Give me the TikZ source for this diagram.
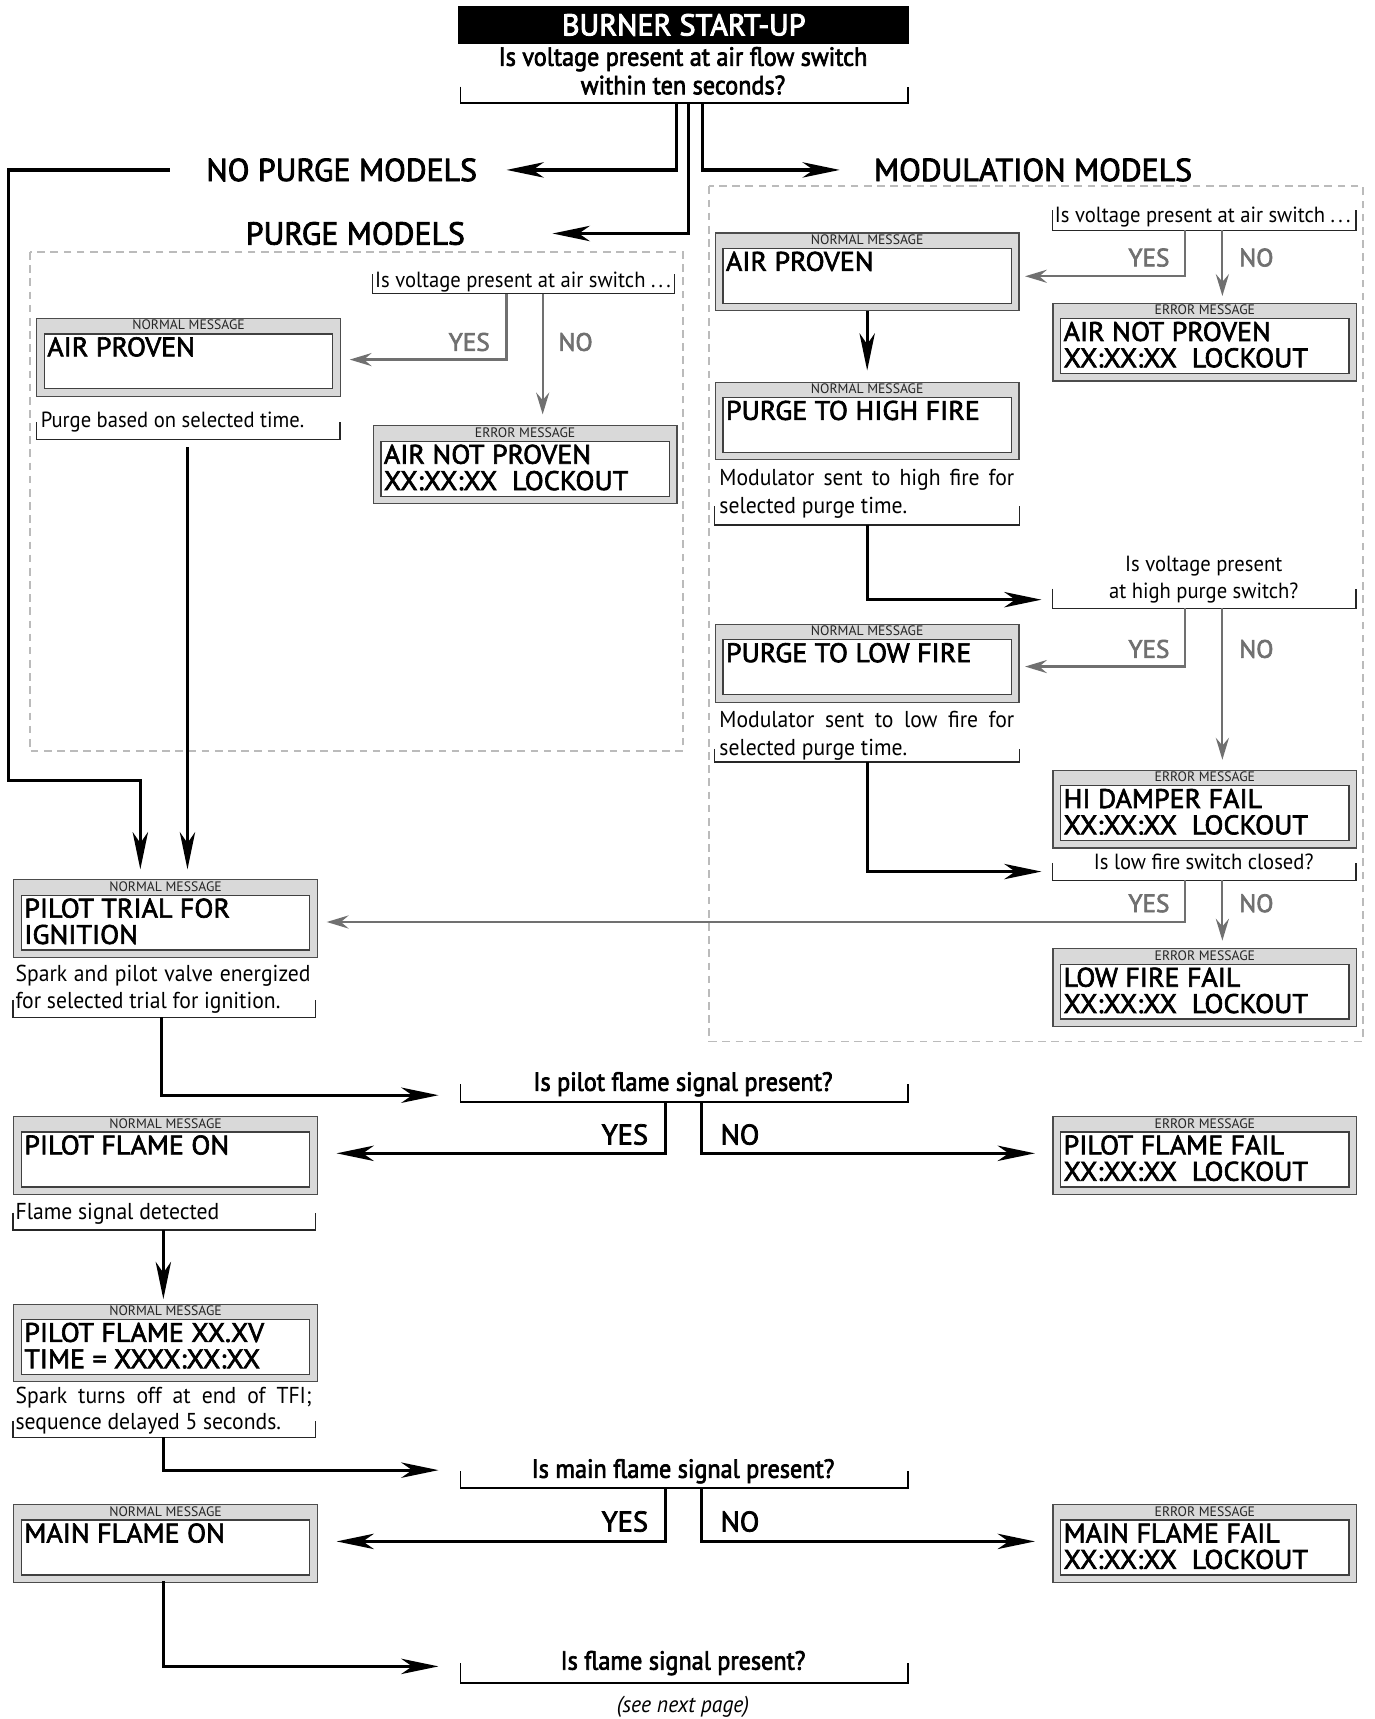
\documentclass[tikz,border=0pt]{standalone}
\usepackage{fontspec}
\setmainfont{PT Sans}
\newfontfamily\cfnt{PT Sans}[FakeStretch=0.94]
\newfontfamily\qfnt{PT Sans}[FakeStretch=0.92,FakeBold=2.6]
\newfontfamily\bfnt{PT Sans}[FakeStretch=1.04,FakeBold=2.4]
\newfontfamily\sfnt{PT Sans}[FakeBold=2.6]
\newfontfamily\tfnt{PT Sans}[FakeBold=3.2]
\usetikzlibrary{arrows.meta}
\definecolor{lg}{HTML}{D9D9D9}
\definecolor{dg}{HTML}{707070}
\definecolor{dashc}{HTML}{BBBBBB}
\newcommand\ddd{.\hspace{3pt}.\hspace{3pt}.}
\tikzset{
  blk/.style={line width=3pt,-{Stealth[length=34pt,width=14pt,inset=10pt]}},
  gry/.style={draw=dg,line width=2pt,-{Stealth[length=20pt,width=12pt,inset=7pt]},color=dg},
  brk/.style={line width=1.6pt},
  brkg/.style={line width=1.2pt,draw=black!85},
  dbox/.style={draw=dashc,line width=1.8pt,dash pattern=on 7pt off 5pt},
  outerb/.style={draw=black!70,line width=1pt,fill=lg,minimum width=277pt,minimum height=71pt,anchor=north west,inner sep=0pt},
  innerb/.style={draw=black!75,line width=1.2pt,fill=white,minimum width=263pt,minimum height=50pt,anchor=north west,inner sep=0pt},
  hdr/.style={font=\fontsize{12.5}{12.5}\selectfont,anchor=base,inner sep=0pt,text=black!85},
  btxt/.style={font=\bfnt\fontsize{24.5}{24.5}\selectfont,anchor=base west,inner sep=0pt},
  sec/.style={font=\sfnt\fontsize{29}{29}\selectfont,inner sep=0pt,anchor=west},
  qq/.style={font=\qfnt\fontsize{24}{24}\selectfont,inner sep=0pt,anchor=base},
  sq/.style={font=\cfnt\fontsize{20}{20}\selectfont,inner sep=0pt,anchor=base west},
  sqc/.style={font=\cfnt\fontsize{20}{20}\selectfont,inner sep=0pt,anchor=base},
  desc/.style={font=\cfnt\fontsize{21}{21}\selectfont,inner sep=0pt,anchor=base west},
  yn/.style={font=\sfnt\fontsize{23}{23}\selectfont,text=dg,inner sep=0pt,anchor=base},
  ynb/.style={font=\sfnt\fontsize{26}{26}\selectfont,inner sep=0pt,anchor=base},
}
\newcommand\msgb[6]{%
  \node[outerb] (#1) at (#2,#3) {};
  \node[hdr] (#1h) at ([shift={(0,11)}]#1.north) {#4};
  \node[innerb] (#1i) at ([shift={(7,14)}]#1.north west) {};
  \node[btxt] (#1a) at ([shift={(3,21)}]#1i.north west) {#5};
  \node[btxt] (#1b) at ([shift={(3,45)}]#1i.north west) {#6};
}
\newcommand\brkt[4]{\draw[brk] (#1,#3) |- (#2,#4) -- (#2,#3);}
\begin{document}
\begin{tikzpicture}[x=1pt,y=-1pt]
\useasboundingbox (0,0) rectangle (1254,1568);
% dashed regions
\draw[dbox] (27,230) rectangle (623,685);
\draw[dbox] (647,170) rectangle (1243,950);
% title
\node[fill=black,minimum width=411pt,minimum height=35pt,anchor=north west,inner sep=0pt,text=white,font=\tfnt\fontsize{27.5}{27.5}\selectfont] (title) at (418,5) {BURNER START-UP};
\node[qq] (q1a) at (623,60) {Is voltage present at air flow switch};
\node[qq] (q1b) at (623,86) {within ten seconds?};
\brkt{420}{828}{79}{94}
% section labels
\node[sec] (npm) at (188,155) {NO PURGE MODELS};
\node[sec] (pm) at (224,213) {PURGE MODELS};
\node[sec] (mm) at (797,155) {MODULATION MODELS};
\coordinate (t1) at (462,155);
\coordinate (t2) at (504,213);
\coordinate (t3) at (766,155);
\draw[blk] (617,94) |- (t1);
\draw[blk] (628,94) |- (t2);
\draw[blk] (641,94) |- (t3);
% boxes
\msgb{apb}{33}{290}{NORMAL MESSAGE}{AIR PROVEN}{}
\msgb{anp}{340}{388}{ERROR MESSAGE}{AIR NOT PROVEN}{XX:XX:XX\ \ LOCKOUT}
\msgb{apm}{652}{212}{NORMAL MESSAGE}{AIR PROVEN}{}
\msgb{anm}{960}{276}{ERROR MESSAGE}{AIR NOT PROVEN}{XX:XX:XX\ \ LOCKOUT}
\msgb{phf}{652}{348}{NORMAL MESSAGE}{PURGE TO HIGH FIRE}{}
\msgb{plf}{652}{569}{NORMAL MESSAGE}{PURGE TO LOW FIRE}{}
\msgb{hdf}{960}{702}{ERROR MESSAGE}{HI DAMPER FAIL}{XX:XX:XX\ \ LOCKOUT}
\msgb{lff}{960}{865}{ERROR MESSAGE}{LOW FIRE FAIL}{XX:XX:XX\ \ LOCKOUT}
\msgb{pti}{12}{802}{NORMAL MESSAGE}{PILOT TRIAL FOR}{IGNITION}
\msgb{pfo}{12}{1018}{NORMAL MESSAGE}{PILOT FLAME ON}{}
\msgb{pff}{960}{1018}{ERROR MESSAGE}{PILOT FLAME FAIL}{XX:XX:XX\ \ LOCKOUT}
\msgb{pfx}{12}{1189}{NORMAL MESSAGE}{PILOT FLAME XX.XV}{TIME = XXXX:XX:XX}
\msgb{mfo}{12}{1372}{NORMAL MESSAGE}{MAIN FLAME ON}{}
\msgb{mff}{960}{1372}{ERROR MESSAGE}{MAIN FLAME FAIL}{XX:XX:XX\ \ LOCKOUT}
% no purge path
\draw[blk,shorten >=9pt] ([xshift=-33pt]npm.west) -- (8,155) -- (8,712) -- (128,712) -- ([xshift=116pt]pti.north west);
% purge models
\node[sq] (q2) at (342,262) {Is voltage present at air switch \ddd};
\draw[brkg] (340,250) |- (615,268) -- (615,250);
\draw[gry,shorten >=8pt] (462,268) |- (apb.east |- 0,328);
\draw[gry,shorten >=10pt] (495,268) -- (anp.north -| 495,0);
\node[yn] (y1) at (428,320) {YES};
\node[yn] (n1) at (525,320) {NO};
\node[sq] (d1) at (37,390) {Purge based on selected time.};
\draw[brkg] (33,385) |- (310,401) -- (310,385);
\draw[blk,shorten >=9pt] (171,408) -- ([xshift=159pt]pti.north west);
% modulation models
\node[sq] (q3) at (962,203) {Is voltage present at air switch \ddd};
\draw[brkg] (960,192) |- (1237,210) -- (1237,192);
\draw[gry,shorten >=5pt] (1081,210) |- (apm.east |- 0,252);
\draw[gry,shorten >=6pt] (1115,210) -- (anm.north -| 1115,0);
\node[yn] (y2) at (1048,243) {YES};
\node[yn] (n2) at (1146,243) {NO};
\draw[blk,shorten >=10pt] (apm.south) -- (phf.north);
\node[desc] (d2a) at (656,443) {\makebox[269pt][s]{Modulator sent to high fire for}};
\node[desc] (d2b) at (656,468) {selected purge time.};
\draw[brkg] (652,462) |- (930,479) -- (930,462);
\coordinate (t4) at (950,547);
\draw[blk] (791,479) |- (t4);
\node[sqc] (q4a) at (1098,521) {Is voltage present};
\node[sqc] (q4b) at (1098,546) {at high purge switch?};
\draw[brkg] (960,537) |- (1237,555) -- (1237,537);
\draw[gry,shorten >=5pt] (1081,555) |- (plf.east |- 0,608);
\draw[gry,shorten >=9pt] (1115,555) -- (hdf.north -| 1115,0);
\node[yn] (y3) at (1048,600) {YES};
\node[yn] (n3) at (1146,600) {NO};
\node[desc] (d3a) at (656,664) {\makebox[269pt][s]{Modulator sent to low fire for}};
\node[desc] (d3b) at (656,689) {selected purge time.};
\draw[brkg] (652,683) |- (930,695) -- (930,683);
\coordinate (t5) at (950,795);
\draw[blk] (791,695) |- (t5);
\node[sqc] (q5) at (1098,793) {Is low fire switch closed?};
\draw[brkg] (960,787) |- (1237,803) -- (1237,787);
\draw[gry,shorten >=8pt] (1081,803) |- (pti.east |- 0,841);
\draw[gry,shorten >=7pt] (1115,803) -- (lff.north -| 1115,0);
\node[yn] (y4) at (1048,832) {YES};
\node[yn] (n4) at (1146,832) {NO};
% lower part
\node[desc] (d4a) at (14,895) {\makebox[269pt][s]{Spark and pilot valve energized}};
\node[desc] (d4b) at (14,920) {for selected trial for ignition.};
\draw[brkg] (12,912) |- (288,928) -- (288,912);
\coordinate (t6) at (400,999);
\draw[blk] (147,928) |- (t6);
\node[qq] (q6) at (623,995) {Is pilot flame signal present?};
\brkt{420}{828}{989}{1005}
\draw[blk,shorten >=17pt] (607,1005) |- (pfo.east |- 0,1052);
\draw[blk,shorten >=16pt] (640,1005) |- (pff.west |- 0,1052);
\node[ynb] (y5) at (570,1044) {YES};
\node[ynb] (n5) at (675,1044) {NO};
\node[desc] (d5) at (14,1112) {Flame signal detected};
\draw[brkg] (12,1106) |- (288,1122) -- (288,1106);
\draw[blk,shorten >=4pt] (149,1122) -- (pfx.north -| 149,0);
\node[desc] (d6a) at (14,1280) {\makebox[270pt][s]{Spark turns off at end of TFI;}};
\node[desc] (d6b) at (14,1304) {sequence delayed 5 seconds.};
\draw[brkg] (12,1296) |- (288,1311) -- (288,1296);
\coordinate (t7) at (400,1341);
\draw[blk] (149,1311) |- (t7);
\node[qq] (q7) at (623,1348) {Is main flame signal present?};
\brkt{420}{828}{1342}{1357}
\draw[blk,shorten >=17pt] (607,1357) |- (mfo.east |- 0,1406);
\draw[blk,shorten >=16pt] (640,1357) |- (mff.west |- 0,1406);
\node[ynb] (y6) at (570,1397) {YES};
\node[ynb] (n6) at (675,1397) {NO};
\coordinate (t8) at (400,1520);
\draw[blk] (149,1442) |- (t8);
\node[qq] (q8) at (623,1523) {Is flame signal present?};
\brkt{420}{828}{1517}{1535}
\node[font=\cfnt\itshape\fontsize{21}{21}\selectfont,anchor=base,inner sep=0pt] (snp) at (623,1562) {(see next page)};
\end{tikzpicture}
\end{document}
